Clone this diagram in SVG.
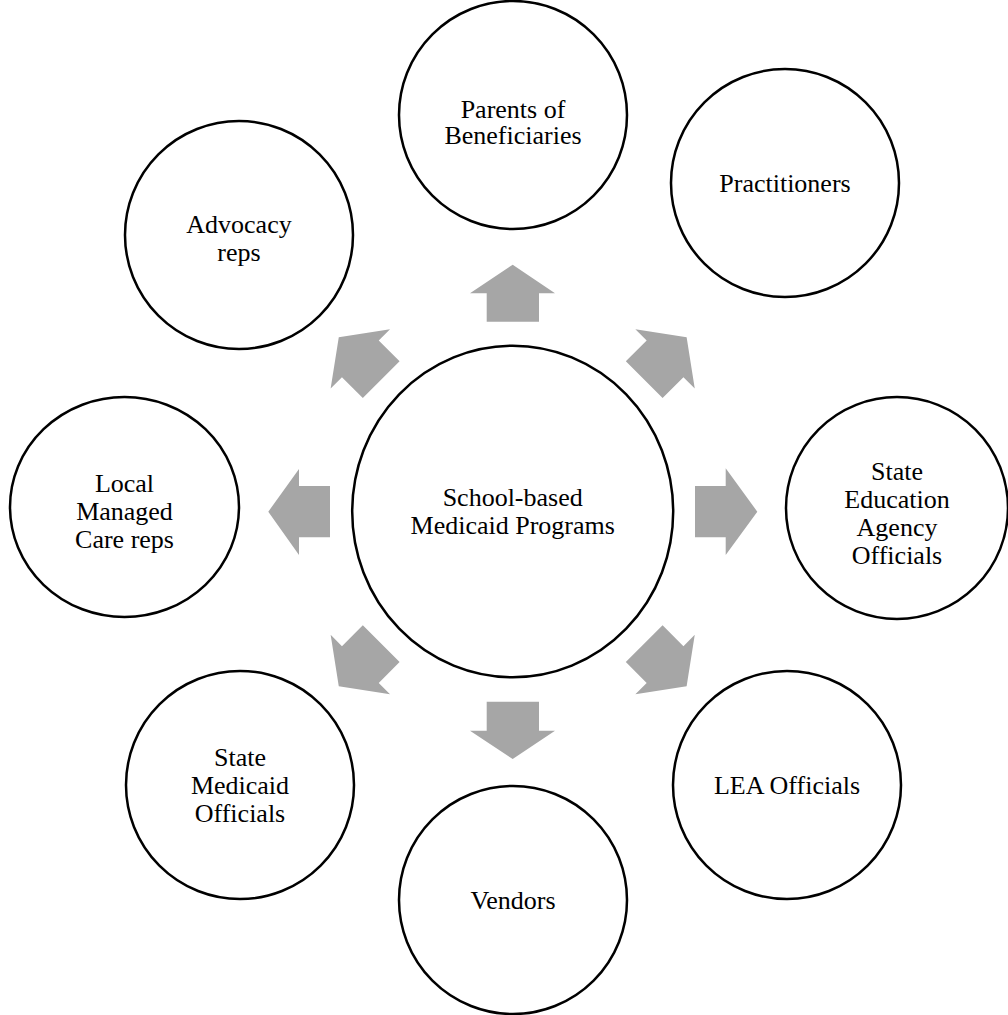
<svg xmlns="http://www.w3.org/2000/svg" xmlns:xlink="http://www.w3.org/1999/xlink" width="1008" height="1015" viewBox="0 0 1008 1015">
<style>
.node{fill:#ffffff;stroke:#000000;stroke-width:2.5}
.lbl{font-family:"Liberation Serif","Times New Roman",serif;font-size:26px;fill:#000000;text-anchor:middle}
.arr{fill:#a6a6a6;stroke:none}
</style>
<defs>
<path id="diag" d="M-26,0 V-29.5 H-42 L0,-60 L42,-29.5 H26 V0 Z"/>
</defs>
<rect width="1008" height="1015" fill="#ffffff"/>
<g id="connectors">
<polygon class="arr" points="486.7,321.7 486.7,293.3 470,293.3 512.7,264.7 555,293.3 539,293.3 539,321.7"/>
<polygon class="arr" points="486.7,701.7 539,701.7 539,730.7 555,730.7 512.7,759 470,730.7 486.7,730.7"/>
<polygon class="arr" points="695,486 725.7,486 725.7,468.3 757.3,511.7 725.7,555 725.7,537.3 695,537.3"/>
<polygon class="arr" points="330,486 299,486 299,469 268.3,511.7 299,555 299,537.3 330,537.3"/>
<use class="arr" xlink:href="#diag" transform="translate(644.2,379.7) rotate(45)"/>
<use class="arr" xlink:href="#diag" transform="translate(644.2,643.7) rotate(135)"/>
<use class="arr" xlink:href="#diag" transform="translate(381.2,643.7) rotate(225)"/>
<use class="arr" xlink:href="#diag" transform="translate(381.2,379.7) rotate(315)"/>
</g>
<g id="center">
<ellipse class="node" cx="512.7" cy="511.5" rx="160.5" ry="165.8"/>
<text class="lbl" x="512.7" y="506">School-based</text>
<text class="lbl" x="512.7" y="533.5">Medicaid Programs</text>
</g>
<g id="parents">
<circle class="node" cx="513" cy="115" r="114"/>
<text class="lbl" x="513" y="117.7">Parents of</text>
<text class="lbl" x="513" y="144.3">Beneficiaries</text>
</g>
<g id="practitioners">
<circle class="node" cx="785" cy="183" r="114"/>
<text class="lbl" x="785" y="192">Practitioners</text>
</g>
<g id="state-education">
<circle class="node" cx="897" cy="508" r="111"/>
<text class="lbl" x="897" y="480">State</text>
<text class="lbl" x="897" y="508">Education</text>
<text class="lbl" x="897" y="536">Agency</text>
<text class="lbl" x="897" y="564">Officials</text>
</g>
<g id="lea">
<circle class="node" cx="787" cy="785" r="114"/>
<text class="lbl" x="787" y="794">LEA Officials</text>
</g>
<g id="vendors">
<circle class="node" cx="513" cy="900" r="114"/>
<text class="lbl" x="513" y="909">Vendors</text>
</g>
<g id="state-medicaid">
<circle class="node" cx="240" cy="785" r="114"/>
<text class="lbl" x="240" y="766">State</text>
<text class="lbl" x="240" y="794">Medicaid</text>
<text class="lbl" x="240" y="822">Officials</text>
</g>
<g id="local-managed-care">
<ellipse class="node" cx="124.5" cy="507" rx="114.5" ry="110"/>
<text class="lbl" x="124.5" y="491.7">Local</text>
<text class="lbl" x="124.5" y="520">Managed</text>
<text class="lbl" x="124.5" y="548.3">Care reps</text>
</g>
<g id="advocacy">
<circle class="node" cx="239" cy="235" r="114"/>
<text class="lbl" x="239" y="233">Advocacy</text>
<text class="lbl" x="239" y="261">reps</text>
</g>
</svg>
